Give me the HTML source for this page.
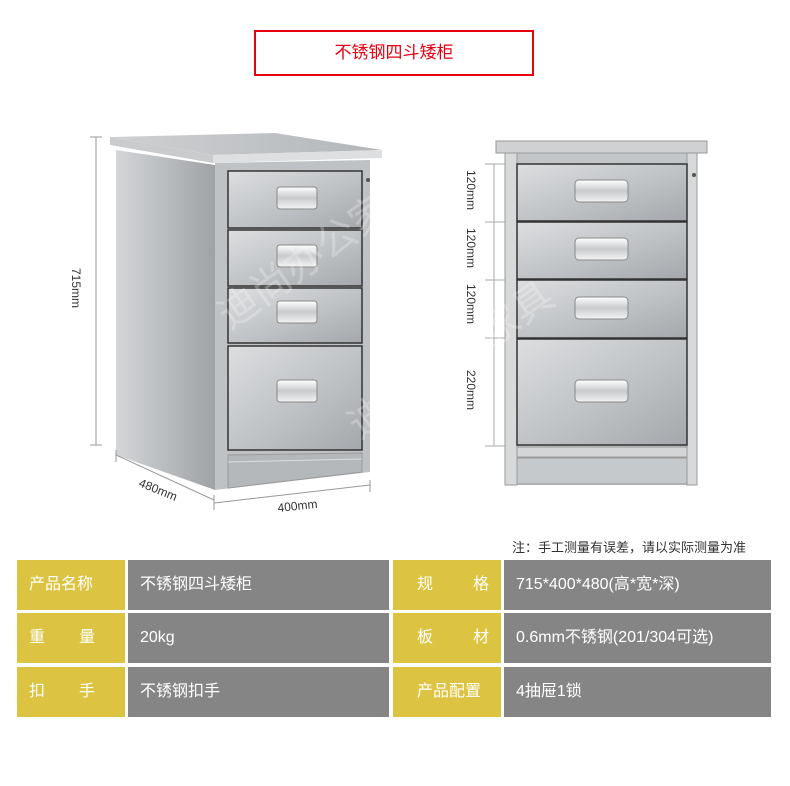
<!DOCTYPE html>
<html><head><meta charset="utf-8"><style>
body{margin:0;background:#fff;width:790px;height:786px;overflow:hidden;position:relative;font-family:"Liberation Sans","Noto Sans CJK SC",sans-serif}
.t{position:absolute;left:254px;top:30px;width:276px;height:42px;border:2px solid #e60012;color:#e60012;font-size:17px;text-align:center;line-height:42px}
.c{position:absolute;height:50px;line-height:50px;color:#fff;font-size:16px;box-sizing:border-box}
.y{background:#dcc442}.g{background:#858585;padding-left:12px}
.note{position:absolute;left:512px;top:537px;font-size:13px;color:#333}
</style></head><body>
<div class="t">不锈钢四斗矮柜</div>
<svg width="790" height="530" style="position:absolute;left:0;top:0">
<defs>
<linearGradient id="s" x1="0" x2="1"><stop offset="0" stop-color="#d4d6d8"/><stop offset=".5" stop-color="#b9bcbf"/><stop offset="1" stop-color="#9fa2a5"/></linearGradient>
<linearGradient id="f" x1="0" x2="1" y1="0" y2="1"><stop offset="0" stop-color="#dcdee0"/><stop offset=".6" stop-color="#bcbfc2"/><stop offset="1" stop-color="#a4a7ab"/></linearGradient>
<linearGradient id="h" x1="0" x2="0" y1="0" y2="1"><stop offset="0" stop-color="#fff"/><stop offset=".5" stop-color="#c8cacc"/><stop offset="1" stop-color="#f4f4f4"/></linearGradient>
<linearGradient id="tp" x1="0" x2="1"><stop offset="0" stop-color="#cfd1d3"/><stop offset="1" stop-color="#b3b6b9"/></linearGradient>
</defs>
<polygon points="116,150 215,165 215,490 116,455" fill="url(#s)"/>
<polygon points="215,163 370,160 370,472 215,490" fill="#bfc2c5"/>
<polygon points="110,137 275,133 382,150 213,155" fill="url(#tp)"/>
<polygon points="110,137 213,155 213,163 110,145" fill="#c9cbcd"/>
<polygon points="213,155 382,150 382,158 213,163" fill="#dedfe0"/>
<g stroke="#333" stroke-width="1.5">
<rect x="228" y="171" width="134" height="57" fill="url(#f)"/>
<rect x="228" y="230" width="134" height="56" fill="url(#f)"/>
<rect x="228" y="288" width="134" height="55" fill="url(#f)"/>
<rect x="228" y="346" width="134" height="104" fill="url(#f)"/>
</g>
<polygon points="228,455 362,453 362,472 228,488" fill="#b5b8bb" stroke="#999"/>
<line x1="228" y1="462" x2="362" y2="459" stroke="#ddd"/>
<g fill="url(#h)" stroke="#888">
<rect x="277" y="187" width="40" height="22" rx="3"/>
<rect x="277" y="245" width="40" height="22" rx="3"/>
<rect x="277" y="301" width="40" height="22" rx="3"/>
<rect x="277" y="380" width="40" height="22" rx="3"/>
</g>
<circle cx="368" cy="180" r="2" fill="#555"/>
<g stroke="#999" stroke-width="1">
<line x1="96" y1="137" x2="96" y2="445"/><line x1="90" y1="137" x2="102" y2="137"/><line x1="90" y1="445" x2="102" y2="445"/>
<line x1="116" y1="455" x2="214" y2="500"/><line x1="214" y1="495" x2="214" y2="510"/><line x1="116" y1="450" x2="116" y2="462"/>
<line x1="214" y1="503" x2="370" y2="485"/><line x1="370" y1="480" x2="370" y2="492"/>
</g>
<text x="0" y="0" font-size="12" fill="#333" transform="translate(72,268) rotate(90)">715mm</text>
<text x="0" y="0" font-size="12" fill="#333" transform="translate(138,486) rotate(22)">480mm</text>
<text x="278" y="512" font-size="12" fill="#333" transform="rotate(-6 278 512)">400mm</text>
<rect x="505" y="153" width="192" height="332" fill="#c3c6c9"/>
<rect x="505" y="153" width="12" height="332" fill="#d7d9db" stroke="#999"/>
<rect x="687" y="153" width="10" height="332" fill="#d7d9db" stroke="#999"/>
<rect x="496" y="141" width="211" height="12" fill="#cfd1d3" stroke="#999"/>
<g stroke="#333" stroke-width="1.5">
<rect x="517" y="164" width="170" height="57" fill="url(#f)"/>
<rect x="517" y="222" width="170" height="57" fill="url(#f)"/>
<rect x="517" y="280" width="170" height="58" fill="url(#f)"/>
<rect x="517" y="339" width="170" height="106" fill="url(#f)"/>
</g>
<rect x="517" y="447" width="170" height="10" fill="#d3d5d7" stroke="#999"/>
<rect x="517" y="458" width="170" height="26" fill="#c6c9cc" stroke="#999"/>
<g fill="url(#h)" stroke="#888">
<rect x="575" y="180" width="53" height="22" rx="4"/>
<rect x="575" y="238" width="53" height="22" rx="4"/>
<rect x="575" y="297" width="53" height="22" rx="4"/>
<rect x="575" y="380" width="53" height="22" rx="4"/>
</g>
<circle cx="694" cy="175" r="2" fill="#555"/>
<g stroke="#aaa"><line x1="494" y1="164" x2="494" y2="446"/>
<line x1="485" y1="164" x2="505" y2="164"/><line x1="485" y1="222" x2="505" y2="222"/><line x1="485" y1="280" x2="505" y2="280"/><line x1="485" y1="338" x2="505" y2="338"/><line x1="485" y1="446" x2="505" y2="446"/></g>
<g font-size="12" fill="#333">
<text transform="translate(467,170) rotate(90)">120mm</text>
<text transform="translate(467,228) rotate(90)">120mm</text>
<text transform="translate(467,284) rotate(90)">120mm</text>
<text transform="translate(467,370) rotate(90)">220mm</text>
</g>
<g fill="#fff" opacity=".25" font-size="40"><text transform="translate(230,330) rotate(-35)">迪尚办公家具</text><text transform="translate(360,440) rotate(-35)">迪尚办公家具</text></g>
</svg>
<div class="note">注：手工测量有误差，请以实际测量为准</div>
<div class="c y" style="left:17px;top:560px;width:108px;padding-left:12px">产品名称</div>
<div class="c g" style="left:128px;top:560px;width:261px">不锈钢四斗矮柜</div>
<div class="c y" style="left:393px;top:560px;width:108px;padding:0 12px 0 24px;text-align:justify;text-align-last:justify">规格</div>
<div class="c g" style="left:504px;top:560px;width:267px">715*400*480(高*宽*深)</div>
<div class="c y" style="left:17px;top:613px;width:108px;padding:0 30px 0 12px;text-align-last:justify">重量</div>
<div class="c g" style="left:128px;top:613px;width:261px">20kg</div>
<div class="c y" style="left:393px;top:613px;width:108px;padding:0 12px 0 24px;text-align-last:justify">板材</div>
<div class="c g" style="left:504px;top:613px;width:267px">0.6mm不锈钢(201/304可选)</div>
<div class="c y" style="left:17px;top:667px;width:108px;padding:0 30px 0 12px;text-align-last:justify">扣手</div>
<div class="c g" style="left:128px;top:667px;width:261px">不锈钢扣手</div>
<div class="c y" style="left:393px;top:667px;width:108px;padding-left:24px">产品配置</div>
<div class="c g" style="left:504px;top:667px;width:267px">4抽屉1锁</div>
</body></html>
